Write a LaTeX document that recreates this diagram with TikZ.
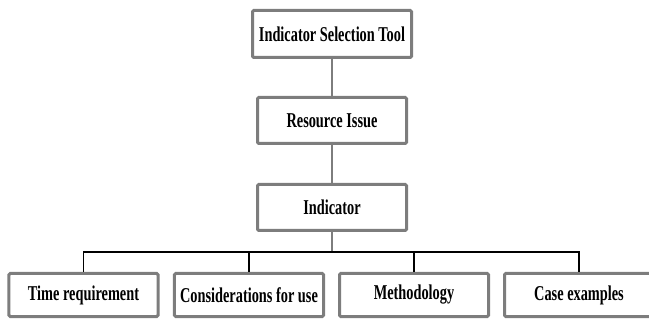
\documentclass[tikz,border=0pt]{standalone}
\usepackage{fontspec}
\newfontfamily\boxfont[FakeStretch=0.68]{Liberation Serif}
\definecolor{boxgray}{RGB}{125,125,125}
\tikzset{
	itembox/.style={draw=boxgray, fill=white, line width=0.09cm, rounded corners=1pt,
		minimum width=4.47cm, minimum height=1.38cm, inner sep=0pt,
		font=\boxfont\bfseries\fontsize{18}{20}\selectfont},
	leafbox/.style={itembox, minimum height=1.29cm},
	graylink/.style={draw=boxgray, line width=0.06cm},
	blacklink/.style={draw=black, line width=0.04cm}
}
\begin{document}
\begin{tikzpicture}[x=0.03cm, y=-0.03cm]
		\useasboundingbox (0,0) rectangle (649,321);
		\clip (0,0) rectangle (649,321);
		
		\node[itembox, minimum width=4.77cm, minimum height=1.41cm] (tool) at (332,34) {Indicator Selection Tool};
		\node[itembox] (resource) at (332,120.5) {Resource Issue};
		\node[itembox] (indicator) at (332,207.5) {Indicator};
		
		\coordinate (bar) at (332,252);
		
		\node[leafbox] (time) at (83.5,295) {Time requirement};
		\node[leafbox] (consider) at (249,295) {Considerations for use};
		\node[leafbox] (method) at (414,295) {Methodology};
		\node[leafbox] (cases) at (579,295) {Case examples};
		
		\draw[graylink] (tool.south) -- (resource.north);
		\draw[graylink] (resource.south) -- (indicator.north);
		\draw[graylink] (indicator.south) -- (bar);
		
		\draw[blacklink] (time.north) -- (time.north |- bar) -- (cases.north |- bar) -- (cases.north);
		\draw[blacklink] (consider.north) -- (consider.north |- bar);
		\draw[blacklink] (method.north) -- (method.north |- bar);
	\end{tikzpicture}
\end{document}
